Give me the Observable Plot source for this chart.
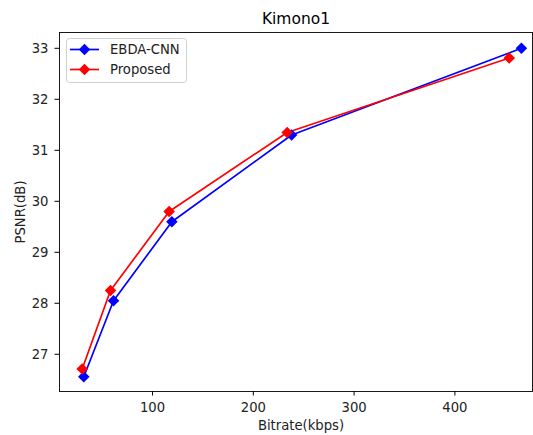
<!DOCTYPE html>
<html>
<head>
<meta charset="utf-8">
<script src="https://cdn.jsdelivr.net/npm/d3@7"></script>
<script src="https://cdn.jsdelivr.net/npm/@observablehq/plot@0.6"></script>
<style>
  html, body { margin: 0; padding: 0; background: #fff; }
  #wrap { position: relative; width: 533px; height: 435px; }
  #legend { position: absolute; left: 66px; top: 38px; }
</style>
</head>
<body>
<div id="wrap"></div>
<script>
const title = "Kimono1";
const xLabel = "Bitrate(kbps)";
const yLabel = "PSNR(dB)";
const seriesNames = ["EBDA-CNN", "Proposed"];
const seriesColors = ["#0000ff", "#ff0000"];
const ebdaBitrate = [31.8, 61.3, 119.2, 238.0, 466.0];
const ebdaPSNR = [26.56, 28.05, 29.60, 31.30, 33.00];
const propBitrate = [30.2, 58.3, 116.5, 233.6, 453.9];
const propPSNR = [26.71, 28.25, 29.80, 31.35, 32.81];
const xTicks = [100, 200, 300, 400];
const yTicks = [27, 28, 29, 30, 31, 32, 33];

const data = [
  ...ebdaBitrate.map((b, i) => ({series: seriesNames[0], bitrate: b, psnr: ebdaPSNR[i]})),
  ...propBitrate.map((b, i) => ({series: seriesNames[1], bitrate: b, psnr: propPSNR[i]}))
];

const chart = Plot.plot({
  width: 533,
  height: 435,
  marginLeft: 59,
  marginRight: 1,
  marginTop: 32,
  marginBottom: 44,
  style: {fontFamily: "DejaVu Sans, sans-serif", fontSize: "13.2px", color: "#222", background: "#fff"},
  x: {domain: [7.7, 477]},
  y: {domain: [26.27, 33.31]},
  color: {domain: seriesNames, range: seriesColors},
  marks: [
    Plot.frame({stroke: "#000", strokeWidth: 0.9}),
    Plot.axisX({ticks: xTicks, tickFormat: d => String(d), tickSize: 4.5, tickPadding: 7, label: null, stroke: "#000"}),
    Plot.axisY({ticks: yTicks, tickFormat: d => String(d), tickSize: 4.5, tickPadding: 6.5, label: yLabel, labelAnchor: "center", labelArrow: "none", labelOffset: 44, stroke: "#000"}),
    Plot.line(data, {x: "bitrate", y: "psnr", z: "series", stroke: "series", strokeWidth: 1.7}),
    Plot.dot(data, {x: "bitrate", y: "psnr", fill: "series", symbol: "diamond2", r: 5.2, stroke: null}),
    Plot.text([xLabel], {frameAnchor: "bottom", lineAnchor: "bottom", dy: 38, dx: 5, fill: "#222"}),
    Plot.text([title], {frameAnchor: "top", lineAnchor: "bottom", dy: -9, fontSize: 15.5, fill: "#000"})
  ]
});
const wrap = document.getElementById("wrap");
wrap.appendChild(chart);

const ns = "http://www.w3.org/2000/svg";
const lg = document.createElementNS(ns, "svg");
lg.setAttribute("id", "legend");
lg.setAttribute("width", "122");
lg.setAttribute("height", "46");
let html = `<rect x="0.5" y="0.5" width="120" height="44" rx="3" fill="rgba(255,255,255,0.85)" stroke="#d0d0d0"/>`;
seriesNames.forEach((name, i) => {
  const cy = 11.5 + i * 20;
  const c = seriesColors[i];
  html += `<line x1="4" y1="${cy}" x2="33" y2="${cy}" stroke="${c}" stroke-width="1.7"/>`;
  html += `<path d="M18.5,${cy-5.7} L24.2,${cy} L18.5,${cy+5.7} L12.8,${cy} Z" fill="${c}"/>`;
  html += `<text x="44" y="${cy}" dy="0.36em" font-family="DejaVu Sans, sans-serif" font-size="13.2" fill="#222">${name}</text>`;
});
lg.innerHTML = html;
wrap.appendChild(lg);
</script>
</body>
</html>
